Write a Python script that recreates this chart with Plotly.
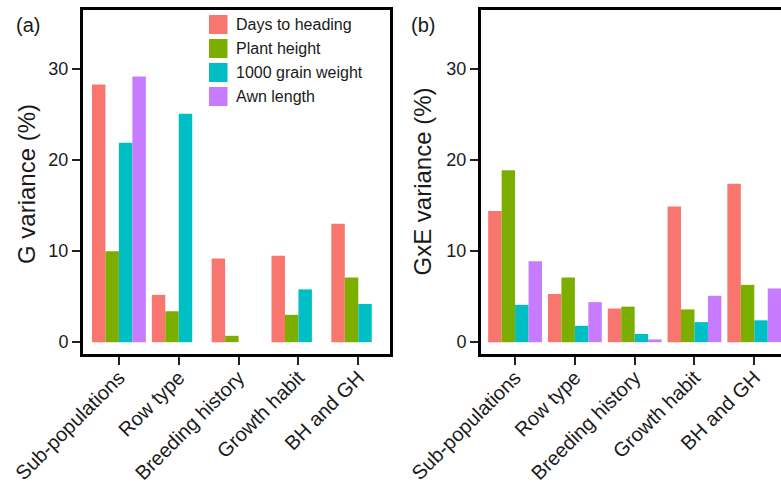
import plotly.graph_objects as go

categories = ["Sub-populations", "Row type", "Breeding history", "Growth habit", "BH and GH"]
series_names = ["Days to heading", "Plant height", "1000 grain weight", "Awn length"]
colors = ["#F8766D", "#7CAE00", "#00BFC4", "#C77CFF"]

# (a) G variance (%)
g_days = [28.3, 5.2, 9.2, 9.5, 13.0]
g_height = [10.0, 3.4, 0.7, 3.0, 7.1]
g_tgw = [21.9, 25.1, None, 5.8, 4.2]
g_awn = [29.2, None, None, None, None]

# (b) GxE variance (%)
gxe_days = [14.4, 5.3, 3.7, 14.9, 17.4]
gxe_height = [18.9, 7.1, 3.9, 3.6, 6.3]
gxe_tgw = [4.1, 1.8, 0.9, 2.2, 2.4]
gxe_awn = [8.9, 4.4, 0.3, 5.1, 5.9]

y_ticks = [0, 10, 20, 30]

W, H = 781, 492
FONT = "Liberation Sans, Arial, sans-serif"
TXT = "#1a1a1a"

fig = go.Figure()

g_series = [g_days, g_height, g_tgw, g_awn]
gxe_series = [gxe_days, gxe_height, gxe_tgw, gxe_awn]

for name, vals, col in zip(series_names, g_series, colors):
    fig.add_trace(go.Bar(x=categories, y=vals, name=name, marker=dict(color=col, line=dict(width=0)),
                         xaxis="x", yaxis="y", showlegend=False, offsetgroup=name))
for name, vals, col in zip(series_names, gxe_series, colors):
    fig.add_trace(go.Bar(x=categories, y=vals, name=name, marker=dict(color=col, line=dict(width=0)),
                         xaxis="x2", yaxis="y2", showlegend=False, offsetgroup=name))

def px_x(p):
    return p / W

def px_y(p):
    return 1 - p / H

top, bottom = 10, 354
ydom = [px_y(bottom), px_y(top)]
yrange = [-1.3, 36.5]

common_x = dict(type="category", showline=True, linecolor="black", linewidth=3,
                ticks="outside", ticklen=8, tickwidth=2, tickcolor="#222",
                tickangle=-45, tickfont=dict(family=FONT, size=20, color=TXT),
                ticklabelstandoff=-7,
                showgrid=False, zeroline=False, fixedrange=True, automargin=False)
common_y = dict(showline=True, linecolor="black", linewidth=3,
                ticks="outside", ticklen=8, tickwidth=2, tickcolor="#222",
                tickvals=y_ticks, tickfont=dict(family=FONT, size=18, color=TXT),
                showgrid=False, zeroline=False, range=yrange, domain=ydom, automargin=False)

fig.update_layout(
    width=W, height=H,
    margin=dict(l=0, r=0, t=0, b=0, autoexpand=False),
    paper_bgcolor="white", plot_bgcolor="white",
    barmode="group", bargap=0.1, bargroupgap=0,
    xaxis=dict(**common_x, domain=[px_x(83), px_x(390)], range=[-0.6, 4.53], mirror=True, anchor="y"),
    yaxis=dict(**common_y, mirror=True, anchor="x"),
    xaxis2=dict(**common_x, domain=[px_x(481), 1.0], range=[-0.57, 4.447], mirror=True, anchor="y2"),
    yaxis2=dict(**common_y, mirror=False, anchor="x2"),
    font=dict(family=FONT, color=TXT),
)

def ann(text, x, y, size, angle=0, xanchor="center"):
    return dict(text=text, x=px_x(x), y=px_y(y), xref="paper", yref="paper", showarrow=False,
                xanchor=xanchor, yanchor="middle", textangle=angle,
                font=dict(family=FONT, size=size, color=TXT))

annotations = [
    ann("(a)", 28, 25, 20),
    ann("(b)", 423, 25, 20),
    ann("G variance (%)", 26, 184, 24, -90),
    ann("GxE variance (%)", 422.5, 182, 24, -90),
]

shapes = []
for i, (name, col) in enumerate(zip(series_names, colors)):
    y0 = 15 + i * 24
    shapes.append(dict(type="rect", xref="paper", yref="paper",
                       x0=px_x(209), x1=px_x(227.5), y0=px_y(y0), y1=px_y(y0 + 19),
                       fillcolor=col, line=dict(width=0)))
    annotations.append(ann(name, 234, y0 + 9.5, 16, 0, "left"))

fig.update_layout(annotations=annotations, shapes=shapes)

fig.write_html("out.html", config={"displayModeBar": False, "staticPlot": True},
               post_script="document.body.style.margin='0';document.body.style.overflow='hidden';")
